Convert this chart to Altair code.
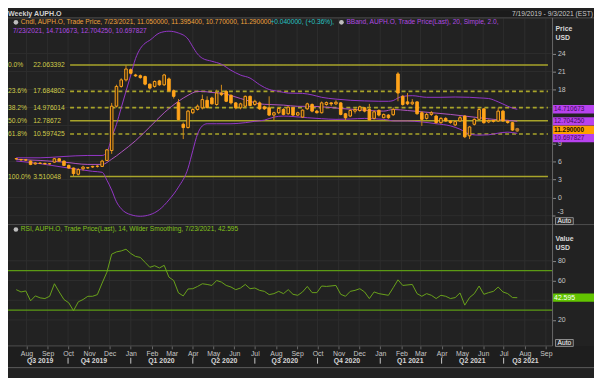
import altair as alt
import pandas as pd
import numpy as np

# ---------------- data ----------------
week0 = "2019-07-17"
n_weeks = 106
dates = [(pd.Timestamp(week0) + pd.Timedelta(weeks=i)).strftime("%Y-%m-%d") for i in range(n_weeks)]

open_ = [6.45,6.35,6.30,6.08,5.60,5.75,5.70,5.62,5.91,6.47,
         6.08,5.37,4.93,3.90,4.80,4.95,5.10,5.20,5.20,6.19,
         7.84,15.22,18.51,19.60,21.30,20.42,20.30,20.15,18.89,18.51,
         19.43,18.78,19.76,17.79,15.80,12.21,11.66,14.13,14.67,14.95,
         16.20,16.59,15.50,17.41,17.68,17.03,15.77,14.95,15.22,16.86,
         15.50,15.77,15.11,14.95,13.74,14.13,14.67,13.96,14.95,13.74,
         13.41,14.78,15.50,14.40,14.13,15.50,15.77,15.60,15.77,13.96,
         13.58,14.40,14.50,14.95,14.67,13.19,14.51,13.30,13.74,13.80,
         20.59,16.86,15.94,15.61,15.94,14.13,13.19,13.85,13.58,12.48,
         13.19,12.76,12.10,12.76,13.58,10.29,12.21,13.03,14.78,12.60,
         12.85,12.76,14.40,12.70,12.48,11.05]
high = [6.60,6.45,6.40,6.20,5.90,5.85,5.80,5.75,6.60,6.55,
        6.20,5.50,5.00,4.90,5.30,5.10,5.30,5.40,6.30,8.10,
        15.77,18.80,19.87,22.06,21.50,20.60,20.50,20.30,19.00,19.50,
        19.60,20.60,20.00,18.00,16.40,12.50,14.60,15.00,15.50,17.14,
        16.86,16.80,17.96,18.78,17.90,17.20,15.90,15.80,17.00,17.00,
        16.30,16.00,15.30,16.86,14.30,15.00,14.90,15.20,15.10,14.30,
        14.70,15.80,15.70,14.60,16.00,16.00,15.90,16.20,15.90,14.10,
        14.70,14.90,15.30,15.10,15.60,14.50,14.70,14.00,13.90,15.00,
        20.90,17.10,17.40,16.40,16.00,14.40,14.10,14.40,13.80,13.40,
        13.40,12.90,12.90,13.60,13.70,11.90,13.20,14.95,14.90,13.00,
        13.00,14.95,14.60,12.90,12.60,11.3954]
low = [6.30,6.15,6.10,5.40,5.50,5.60,5.55,5.50,5.80,6.00,
       5.30,4.80,3.51,3.70,4.50,4.80,4.95,5.00,5.10,6.10,
       7.29,15.00,18.30,19.33,20.50,20.10,19.80,18.70,18.00,18.30,
       18.60,18.60,17.60,16.50,12.80,9.75,11.50,13.90,14.50,14.67,
       14.80,15.50,15.30,16.90,15.90,15.50,14.70,14.70,15.00,15.20,
       15.30,14.60,14.60,13.60,12.76,13.90,13.70,13.80,13.60,13.60,
       13.30,14.60,14.20,14.00,14.00,15.30,15.20,15.40,13.70,12.90,
       13.40,14.00,14.30,14.20,12.80,13.00,13.50,13.20,13.10,13.60,
       16.04,15.30,15.40,15.40,13.80,11.94,13.00,13.60,12.30,12.30,
       12.60,12.30,11.90,12.60,9.91,9.75,12.00,12.90,12.30,12.40,
       12.50,12.60,12.60,12.30,11.10,10.77]
close = [6.50,6.28,6.25,5.53,5.75,5.70,5.62,5.65,6.47,6.08,
         5.37,4.93,4.00,4.66,5.09,5.00,5.20,5.25,6.08,7.95,
         15.22,18.51,19.60,21.41,20.70,20.26,19.98,18.89,18.23,19.33,
         18.78,20.42,17.79,16.86,13.00,11.66,14.40,14.67,15.22,16.32,
         15.00,15.61,17.41,17.14,16.04,15.77,14.95,15.61,16.86,15.33,
         16.04,14.78,14.78,13.74,14.13,14.84,13.85,15.06,13.74,14.13,
         14.56,15.61,14.40,14.13,15.77,15.82,15.60,15.88,13.85,13.30,
         14.51,14.67,15.11,14.40,12.92,14.29,13.74,13.85,13.30,14.70,
         17.41,15.50,15.61,15.88,13.96,13.03,13.85,14.13,12.48,13.19,
         12.76,12.50,12.65,13.30,10.13,11.77,13.03,14.67,12.48,12.85,
         12.70,14.40,12.76,12.50,11.25,11.29]

bb_upper_idx = [0,5,10,15,18,19,20,21,22,23,24,25,26,27,28,30,32,34,36,37,38,39,41,43,45,47,49,51,53,55,
                57,60,62,64,67,70,73,76,78,79,80,81,83,86,89,92,95,97,99,101,103,104,105]
bb_upper = [6.63,6.63,6.85,7.02,7.02,7.56,10.0,12.2,14.95,17.7,20.4,23.15,24.8,25.7,26.2,27.4,27.7,27.4,26.4,25.1,
            23.9,23.2,22.7,22.2,21.2,20.4,19.9,18.8,18.0,17.7,17.4,17.35,17.1,16.7,16.4,16.2,16.1,16.04,16.04,16.15,
            16.59,16.86,16.97,16.7,16.7,16.75,16.7,16.6,16.5,15.94,15.22,14.9,14.710673]
bb_mid_idx = [0,5,10,15,18,20,22,25,28,31,34,36,38,39,41,43,45,47,49,51,53,56,59,62,65,68,71,74,77,79,
              82,85,88,91,94,97,100,103,105]
bb_mid = [6.36,6.19,5.91,5.53,5.53,6.4,7.56,9.47,11.77,14.13,16.04,17.03,17.68,17.68,17.5,17.4,17.0,16.5,16.04,15.6,
          15.5,15.4,15.2,15.2,15.06,14.84,14.67,14.5,14.4,14.67,14.5,14.29,14.07,13.85,13.58,13.3,13.03,12.87,12.70425]
bb_lower_idx = [0,5,10,13,16,18,19,20,21,22,24,26,28,30,32,34,36,37,38,39,40,42,45,48,50,52,54,56,58,61,
                64,67,70,73,76,78,79,82,85,88,91,93,95,97,99,101,103,105]
bb_lower = [6.1,5.65,5.04,4.7,4.38,4.22,2.9,1.26,-0.7,-1.85,-2.84,-3.1,-2.84,-2.0,-0.38,1.76,4.88,7.83,10.6,11.94,
            12.3,12.3,12.3,12.48,12.7,12.9,13.41,13.58,13.5,13.3,13.14,13.03,13.08,13.19,13.08,12.92,12.76,12.76,12.6,12.3,
            11.94,11.39,10.57,10.4,10.46,10.73,10.9,10.697827]

rsi = [50.7,48.4,49.4,39.4,44.4,42.4,41.7,44.0,56.7,48.4,
       40.7,37.4,29.4,38.4,40.7,44.0,44.0,45.7,57.4,68.4,
       86.7,89.0,90.0,91.7,87.4,84.4,83.4,78.4,73.4,75.0,
       72.7,75.4,63.4,60.0,47.4,44.4,51.4,51.7,54.0,56.7,
       56.0,55.0,60.0,58.4,55.0,53.4,50.7,52.4,56.0,51.7,
       52.4,50.0,49.0,45.7,46.7,49.0,46.7,50.7,46.0,45.0,
       48.4,54.0,47.7,47.7,54.4,54.0,None,55.0,46.0,44.0,
       49.0,50.0,51.7,48.4,41.7,48.4,46.7,None,45.0,52.7,
       60.7,55.0,None,56.0,46.7,44.0,46.7,45.0,41.7,45.0,
       44.0,41.7,42.7,47.4,35.0,42.7,46.7,54.4,46.0,47.7,
       49.0,53.4,48.4,46.7,42.7,42.595]

fib_pct = ["0.0%", "23.6%", "38.2%", "50.0%", "61.8%", "100.0%"]
fib_val = [22.063392, 17.684802, 14.976014, 12.78672, 10.597425, 3.510048]
fib_txt = ["22.063392", "17.684802", "14.976014", "12.78672", "10.597425", "3.510048"]
fib_style = ["solid", "dash", "dash", "solid", "dash", "solid"]
fib_from, fib_to = "2019-10-04", "2021-09-04"

price_grid_ticks = [-3, 0, 3, 6, 9, 12, 15, 18, 21, 24]
price_ticks = [0, 3, 6, 9, 18, 21, 24]          # 12/15 sit under the boxes, -3 is lifted above "Auto"
rsi_grid_ticks = [20, 40, 60, 80]
rsi_ticks = [20, 60, 80]                        # 40 sits under the last-value box
rsi_levels = [70, 30]

months = [d.strftime("%Y-%m-%d") for d in pd.date_range("2019-08-01", "2021-09-01", freq="MS")]
quarter_starts = ["2019-10-01", "2020-01-01", "2020-04-01", "2020-07-01",
                  "2020-10-01", "2021-01-01", "2021-04-01", "2021-07-01"]
quarter_names = ["Q3 2019", "Q4 2019", "Q1 2020", "Q2 2020", "Q3 2020",
                 "Q4 2020", "Q1 2021", "Q2 2021", "Q3 2021"]
quarter_pos = ["2019-08-21", "2019-11-08", "2020-02-15", "2020-05-17", "2020-08-14",
               "2020-11-13", "2021-02-14", "2021-05-16", "2021-08-02"]

last_labels = ["14.710673", "12.704250", "11.290000", "10.697827"]
last_vals = [14.710673, 12.704250, 11.29, 10.697827]
last_kind = ["bb", "bb", "px", "bb_low"]

# ---------------- style ----------------
FONT = "Liberation Sans"
BG = "#222222"
GRID = "#2e2e2e"
SEP = "#4e4e4e"
AXTXT = "#c6c6c6"
ORANGE = "#ffa31a"
WICK = "#d08a1a"
UPFILL = "#3a2a12"
BB = "#9437c8"
BBMID = "#b055c0"
FIB = "#a8a42a"
FIBTXT = "#cfcc4a"
RSI = "#6aa31a"
RSILVL = "#5b9a14"
MAG = "#b842ef"
MAGTXT = "#3c0a58"
CYAN = "#27c3c3"
LEGOR = "#f0a23c"
LEGPU = "#b04ae0"
RSITXT = "#84c21c"

PX_RIGHT = 552  # axis line (internal px)

xscale = alt.Scale(type="utc",
                   domain=[alt.DateTime(year=2019, month=7, date=1, utc=True),
                           alt.DateTime(year=2021, month=10, date=1, utc=True)],
                   range=[-7.69, 570.97])
xaxis = alt.Axis(orient="bottom", offset=-30,
                 values=[alt.DateTime(year=int(m[:4]), month=int(m[5:7]), date=1, utc=True) for m in months],
                 labelExpr="utcFormat(datum.value, '%b')", tickSize=3, tickColor="#6a6a6a",
                 labelColor=AXTXT, labelFontSize=7, labelFont=FONT, labelPadding=1,
                 domain=False, grid=False, title=None, labelOverlap=False, labelFlush=False,
                 labelBound=False, zindex=1)

pscale = alt.Scale(domain=[-3, 24], range=[207.97, 43.54], nice=False, zero=False)
paxis = alt.Axis(orient="right", offset=-42, values=price_ticks, tickSize=3, tickColor="#8a8a8a",
                 labelColor=AXTXT, labelFontSize=7, labelFont=FONT, labelPadding=2,
                 domain=False, grid=False, title=None, labelOverlap=False, labelFlush=False, labelBound=False)
rscale = alt.Scale(domain=[20, 80], range=[313.7, 253.7], nice=False, zero=False)
raxis = alt.Axis(orient="right", offset=-42, values=rsi_ticks, tickSize=3, tickColor="#8a8a8a",
                 labelColor=AXTXT, labelFontSize=7, labelFont=FONT, labelPadding=2,
                 domain=False, grid=False, title=None, labelOverlap=False, labelFlush=False, labelBound=False)


def xenc(field="date"):
    return alt.X(f"{field}:T", scale=xscale, axis=xaxis)


def yp(field):
    return alt.Y(f"{field}:Q", scale=pscale, axis=paxis)


def yr(field):
    return alt.Y(f"{field}:Q", scale=rscale, axis=raxis)


def txt(s, x, y, color, size=6.7, weight="normal", align="left"):
    return alt.Chart(pd.DataFrame({"t": [s]})).mark_text(
        align=align, baseline="middle", font=FONT, fontSize=size, fontWeight=weight, color=color
    ).encode(x=alt.value(x), y=alt.value(y), text="t:N")


def hline(y, x1, x2, color, w=1.0):
    return alt.Chart(pd.DataFrame({"a": [0]})).mark_rule(color=color, strokeWidth=w).encode(
        x=alt.value(x1), x2=alt.value(x2), y=alt.value(y))


def vline(x, y1, y2, color, w=1.0):
    return alt.Chart(pd.DataFrame({"a": [0]})).mark_rule(color=color, strokeWidth=w).encode(
        x=alt.value(x), y=alt.value(y1), y2=alt.value(y2))


def rect(x1, x2, y1, y2, fill, stroke=None):
    kw = dict(fill=fill)
    if stroke:
        kw.update(stroke=stroke, strokeWidth=0.8)
    return alt.Chart(pd.DataFrame({"a": [0]})).mark_rect(**kw).encode(
        x=alt.value(x1), x2=alt.value(x2), y=alt.value(y1), y2=alt.value(y2))


def icon(x, y):
    return alt.Chart(pd.DataFrame({"a": [0]})).mark_point(
        shape="circle", size=22, filled=True, color="#bdbdbd", opacity=1).encode(
        x=alt.value(x), y=alt.value(y))


# ---------------- frames ----------------
df = pd.DataFrame({"date": dates, "open": open_, "high": high, "low": low, "close": close})
df["dir"] = np.where(df["close"] >= df["open"], "up", "down")
cdf = df.iloc[:-1]
ldf = df.iloc[-1:]

def band(idx, vals):
    return pd.DataFrame({"date": [dates[i] for i in idx], "v": vals})

fib_df = pd.DataFrame({"start": fib_from, "end": fib_to, "v": fib_val, "pct": fib_pct,
                       "label": fib_txt, "style": fib_style})
rsi_df = pd.DataFrame({"date": dates, "v": rsi}).dropna()
month_df = pd.DataFrame({"date": months})
qs_df = pd.DataFrame({"date": quarter_starts})
ql_df = pd.DataFrame({"date": quarter_pos, "name": quarter_names})
box_df = pd.DataFrame({"v": last_vals, "label": last_labels, "kind": last_kind})

BOX_PATH = "M-1,-0.2L1,-0.2L1,0.2L-1,0.2Z"

# ---------------- background / decorations ----------------
title_bar = rect(0, 594, 0, 7.5, "#1b1b1b")
xarea = rect(0, 594, 340, 362, "#1e1e1e")
vgrid = alt.Chart(month_df).mark_rule(color=GRID, strokeWidth=1).encode(
    x=xenc(), y=alt.value(8), y2=alt.value(340))
deco_bg = alt.layer(title_bar, xarea, vgrid)

# ---------------- price panel ----------------
pgrid = alt.Chart(pd.DataFrame({"v": price_grid_ticks})).mark_rule(color=GRID, strokeWidth=1).encode(
    x=alt.value(0), x2=alt.value(PX_RIGHT), y=yp("v"))
fib_rules = alt.Chart(fib_df).mark_rule(color=FIB, strokeWidth=1.6).encode(
    x=xenc("start"), x2="end:T", y=yp("v"),
    strokeDash=alt.StrokeDash("style:N", scale=alt.Scale(domain=["solid", "dash"], range=[[1, 0], [4, 3]]),
                              legend=None))
fib_p = alt.Chart(fib_df).mark_text(align="left", baseline="middle", font=FONT, fontSize=6.8,
                                    color=FIBTXT).encode(x=alt.value(0), y=yp("v"), text="pct:N")
fib_v = alt.Chart(fib_df).mark_text(align="left", baseline="middle", font=FONT, fontSize=6.8,
                                    color=FIBTXT).encode(x=alt.value(25.5), y=yp("v"), text="label:N")
bbu = alt.Chart(band(bb_upper_idx, bb_upper)).mark_line(color=BB, strokeWidth=1, interpolate="monotone").encode(
    x=xenc(), y=yp("v"))
bbm = alt.Chart(band(bb_mid_idx, bb_mid)).mark_line(color=BBMID, strokeWidth=1, interpolate="monotone").encode(
    x=xenc(), y=yp("v"))
bbl = alt.Chart(band(bb_lower_idx, bb_lower)).mark_line(color=BB, strokeWidth=1, interpolate="monotone").encode(
    x=xenc(), y=yp("v"))
wicks = alt.Chart(cdf).mark_rule(color=WICK, strokeWidth=1).encode(x=xenc(), y=yp("low"), y2="high:Q")
bodies = alt.Chart(cdf).mark_bar(size=2.6, stroke=ORANGE, strokeWidth=1).encode(
    x=xenc(), y=yp("open"), y2="close:Q",
    fill=alt.Fill("dir:N", scale=alt.Scale(domain=["up", "down"], range=[UPFILL, ORANGE]), legend=None))
lastpt = alt.Chart(ldf).mark_point(shape="circle", size=18, filled=True, color="#b5782a", opacity=1).encode(
    x=xenc(), y=yp("close"))


def value_box(kind, fill, tcolor, weight="normal", shift=0):
    base = alt.Chart(box_df).transform_filter(f"datum.kind == '{kind}'")
    b = base.mark_point(shape=BOX_PATH, size=1764, filled=True, opacity=1, color=fill, yOffset=shift).encode(
        x=alt.value(573), y=yp("v"))
    t = base.mark_text(align="left", baseline="middle", font=FONT, fontSize=6.5, fontWeight=weight,
                       color=tcolor, yOffset=shift).encode(x=alt.value(553.5), y=yp("v"), text="label:N")
    return [b, t]


price = alt.layer(pgrid, fib_rules, bbu, bbm, bbl, wicks, bodies, lastpt, fib_p, fib_v,
                  *value_box("bb", MAG, MAGTXT),
                  *value_box("bb_low", MAG, MAGTXT, shift=4.7),
                  *value_box("px", "#ffa000", "#1a1000", weight="bold"))

# ---------------- RSI panel ----------------
rgrid = alt.Chart(pd.DataFrame({"v": rsi_grid_ticks})).mark_rule(color=GRID, strokeWidth=1).encode(
    x=alt.value(0), x2=alt.value(PX_RIGHT), y=yr("v"))
rlv = alt.Chart(pd.DataFrame({"v": rsi_levels})).mark_rule(color=RSILVL, strokeWidth=1.2).encode(
    x=alt.value(0), x2=alt.value(PX_RIGHT), y=yr("v"))
rline = alt.Chart(rsi_df).mark_line(color=RSI, strokeWidth=1).encode(x=xenc(), y=yr("v"))
rlast = rsi_df.iloc[-1:].assign(label="42.595")
rbox = alt.Chart(rlast).mark_point(shape=BOX_PATH, size=1764, filled=True, opacity=1, color="#62c400").encode(
    x=alt.value(573), y=yr("v"))
rbox_t = alt.Chart(rlast).mark_text(align="left", baseline="middle", font=FONT, fontSize=7,
                                    color="#ffffff").encode(x=alt.value(553.5), y=yr("v"), text="label:N")
rsi_panel = alt.layer(rgrid, rlv, rline, rbox, rbox_t)

# ---------------- foreground decorations ----------------
qsep = alt.Chart(qs_df).mark_rule(color="#c8c8c8", strokeWidth=1).encode(
    x=xenc(), y=alt.value(352), y2=alt.value(358))
qlab = alt.Chart(ql_df).mark_text(align="center", baseline="middle", font=FONT, fontSize=7,
                                  fontWeight="bold", color="#d6d6d6").encode(x=xenc(), y=alt.value(355),
                                                                               text="name:N")
deco_fg = alt.layer(
    hline(7.5, 0, 594, SEP), hline(217, 0, 594, SEP), hline(340, 0, PX_RIGHT, SEP), hline(362, 0, 594, "#5a5a5a"),
    vline(PX_RIGHT, 7.5, 340, "#6a6a6a"),
    hline(208.3, PX_RIGHT, PX_RIGHT + 3, "#8a8a8a"),
    txt("-3", 557, 204.5, AXTXT, size=7),
    qsep, qlab,
    txt("Weekly AUPH.O", 0, 3.5, "#d0d0d0", size=7.2, weight="bold"),
    txt("7/19/2019 - 9/3/2021 (EST)", 593, 3.5, "#c8c8c8", size=6.8, align="right"),
    icon(8, 12), icon(338, 12), icon(8, 222),
    txt("Cndl, AUPH.O, Trade Price, 7/23/2021, 11.050000, 11.395400, 10.770000, 11.290000,", 13, 12, LEGOR),
    txt("+0.040000, (+0.36%),", 266, 12, CYAN),
    txt("BBand, AUPH.O, Trade Price(Last),  20, Simple, 2.0,", 343, 12, LEGPU),
    txt("7/23/2021, 14.710673, 12.704250, 10.697827", 5, 20.5, LEGPU),
    txt("RSI, AUPH.O, Trade Price(Last),  14, Wilder Smoothing, 7/23/2021, 42.595", 13, 222, RSITXT),
    txt("Price", 555, 19, "#d8d8d8", size=7, weight="bold"),
    txt("USD", 555, 28, "#d8d8d8", size=7, weight="bold"),
    txt("Value", 555, 232, "#d8d8d8", size=7, weight="bold"),
    txt("USD", 555, 241, "#d8d8d8", size=7, weight="bold"),
    rect(555, 573, 210, 217, "#2c2c2c", "#a8a8a8"), txt("Auto", 564, 213.5, "#ffffff", size=6.8, align="center"),
    rect(555, 573, 333.5, 340.5, "#2c2c2c", "#a8a8a8"), txt("Auto", 564, 337, "#ffffff", size=6.8, align="center"),
)

chart = alt.layer(deco_bg, price, rsi_panel, deco_fg).resolve_scale(y="independent").properties(
    width=594, height=370, autosize=alt.AutoSizeParams(type="none"), padding=0, background=BG
).configure_view(strokeWidth=0)

chart.save("out.html", embed_options={"renderer": "svg", "actions": False})
